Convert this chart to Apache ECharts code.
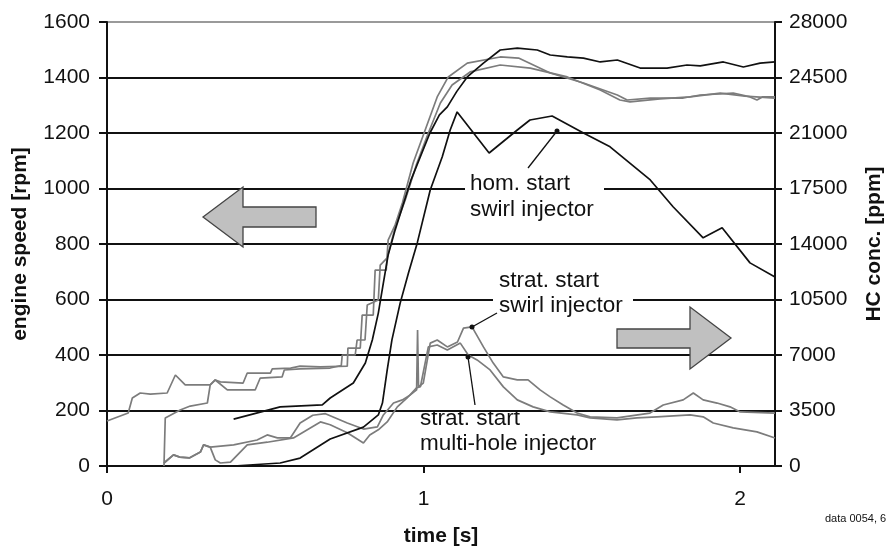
<!DOCTYPE html>
<html>
<head>
<meta charset="utf-8">
<script src="https://cdn.jsdelivr.net/npm/echarts@6/dist/echarts.min.js"></script>
<style>
html,body{margin:0;padding:0;background:#fff;}
#chart{width:893px;height:549px;}
</style>
</head>
<body>
<div id="chart"></div>
<script>
// ---- data (time [s], value) ----
const timeTicks = [0, 1, 2];
const speedTicks = [0, 200, 400, 600, 800, 1000, 1200, 1400, 1600];
const hcTicks = [0, 3500, 7000, 10500, 14000, 17500, 21000, 24500, 28000];

// engine speed [rpm], left axis
const speedHom = [[0.4,169],[0.547,213],[0.68,220],[0.705,245],[0.778,299],[0.816,371],[0.838,454],[0.857,551],[0.873,660],[0.888,760],[0.91,850],[0.96,1030],[1.02,1200],[1.05,1265],[1.075,1294],[1.105,1350],[1.138,1402],[1.189,1452],[1.242,1499],[1.296,1506],[1.359,1499],[1.4,1481],[1.454,1474],[1.505,1470],[1.558,1456],[1.612,1463],[1.684,1434],[1.769,1434],[1.832,1445],[1.874,1442],[1.947,1456],[2.01,1438],[2.063,1452],[2.11,1456]];
const speedStratA = [[0,162],[0.067,191],[0.08,245],[0.105,263],[0.137,259],[0.19,263],[0.216,328],[0.247,292],[0.326,292],[0.342,310],[0.358,303],[0.43,299],[0.443,335],[0.516,335],[0.522,350],[0.58,353],[0.61,360],[0.674,357],[0.759,360],[0.761,425],[0.8,425],[0.806,544],[0.841,544],[0.847,706],[0.882,706],[0.888,814],[0.91,868],[0.933,948],[0.967,1092],[1.005,1211],[1.043,1330],[1.078,1402],[1.138,1452],[1.242,1474],[1.3,1470],[1.4,1416],[1.505,1380],[1.612,1337],[1.643,1319],[1.716,1326],[1.82,1326],[1.874,1337],[1.978,1344],[2.031,1330],[2.053,1319],[2.07,1330],[2.11,1330]];
const speedStratB = [[0.18,0],[0.184,173],[0.231,202],[0.263,216],[0.317,227],[0.326,292],[0.342,310],[0.38,274],[0.468,274],[0.484,317],[0.553,321],[0.56,346],[0.61,350],[0.705,353],[0.74,362],[0.743,400],[0.784,400],[0.79,454],[0.815,454],[0.822,580],[0.857,598],[0.863,724],[0.885,750],[0.91,860],[0.942,959],[0.977,1085],[1.015,1200],[1.053,1308],[1.09,1373],[1.147,1420],[1.242,1445],[1.337,1434],[1.454,1402],[1.558,1355],[1.62,1319],[1.652,1312],[1.747,1323],[1.842,1330],[1.937,1344],[2.015,1333],[2.11,1326]];

// HC concentration [ppm], right axis
const hcHom = [[0.4,0],[0.547,190],[0.61,500],[0.705,1700],[0.81,2450],[0.857,3220],[0.87,3970],[0.885,6050],[0.9,7950],[0.926,10270],[0.952,12160],[0.98,14070],[1.021,17410],[1.059,19500],[1.084,21190],[1.106,22330],[1.207,19740],[1.296,21190],[1.336,21820],[1.406,22070],[1.505,21000],[1.589,20130],[1.716,18040],[1.788,16350],[1.883,14390],[1.943,15020],[2.031,12810],[2.11,11920]];
const hcStratSwirl = [[0.18,190],[0.21,700],[0.23,560],[0.26,510],[0.295,880],[0.305,1330],[0.326,1190],[0.4,1330],[0.474,1640],[0.506,1960],[0.538,1770],[0.579,1770],[0.61,2710],[0.65,3200],[0.69,3300],[0.759,2710],[0.81,2330],[0.854,2470],[0.873,3220],[0.905,3970],[0.933,4170],[0.958,4480],[0.978,4800],[0.981,8580],[0.984,5000],[0.999,5230],[1.021,7750],[1.043,7950],[1.075,7510],[1.107,7820],[1.126,8700],[1.153,8770],[1.189,7510],[1.22,6490],[1.252,5620],[1.296,5430],[1.33,5430],[1.368,4800],[1.4,4360],[1.441,3850],[1.485,3340],[1.526,3100],[1.611,3030],[1.715,3340],[1.757,3850],[1.82,4170],[1.852,4600],[1.883,4170],[1.927,3970],[1.968,3730],[2.0,3410],[2.11,3340]];
const hcStratMulti = [[0.18,190],[0.21,700],[0.23,560],[0.26,510],[0.295,880],[0.305,1330],[0.326,1190],[0.342,385],[0.358,190],[0.39,245],[0.443,1330],[0.506,1500],[0.589,1770],[0.674,2780],[0.705,2600],[0.759,2100],[0.81,1450],[0.83,1960],[0.857,2280],[0.885,2780],[0.917,3730],[0.948,4290],[0.977,4920],[0.99,5000],[1.015,7510],[1.043,7630],[1.075,7320],[1.116,7750],[1.141,7000],[1.169,6690],[1.21,6060],[1.252,4990],[1.296,4170],[1.346,3730],[1.4,3410],[1.485,3220],[1.526,3030],[1.611,2910],[1.674,3030],[1.737,3100],[1.842,3220],[1.883,3100],[1.915,2710],[1.978,2400],[2.053,2150],[2.11,1770]];

const FONT = "'Liberation Sans', Arial, sans-serif";
const GRAY = '#7c7c7c';
const chart = echarts.init(document.getElementById('chart'), null, {renderer: 'canvas'});

function lineSeries(name, data, color, axis) {
  return {
    name, type: 'line', data, yAxisIndex: axis,
    showSymbol: false, symbol: 'none', animation: false,
    lineStyle: {color, width: 1.7}, z: color === GRAY ? 3 : 4
  };
}

const gridColors = speedTicks.map((v, i) => i === speedTicks.length - 1 ? '#9a9a9a' : '#111');

const textStyle = (t, x, y, size) => ({
  type: 'text', x, y, z: 120,
  style: {text: t, font: `${size}px ${FONT}`, fill: '#111', textVerticalAlign: 'middle', textAlign: 'left'}
});

chart.setOption({
  animation: false,
  backgroundColor: '#fff',
  grid: {left: 107, right: 118, top: 22, bottom: 83, containLabel: false, outerBoundsMode: 'none'},
  xAxis: {
    type: 'value', min: 0, max: 2.11, interval: 1,
    name: 'time [s]', nameLocation: 'middle', nameGap: 60,
    nameTextStyle: {fontFamily: FONT, fontSize: 21, fontWeight: 'bold', color: '#111'},
    axisLine: {show: true, lineStyle: {color: '#111', width: 2}},
    axisTick: {show: true, inside: false, length: 7, customValues: timeTicks, lineStyle: {color: '#111', width: 2}},
    axisLabel: {show: true, margin: 23, customValues: timeTicks, fontFamily: FONT, fontSize: 21, color: '#111', formatter: v => String(v)},
    splitLine: {show: false}
  },
  yAxis: [{
    type: 'value', min: 0, max: 1600, interval: 200, position: 'left',
    name: 'engine speed [rpm]', nameLocation: 'middle', nameGap: 76, nameRotate: 90,
    nameTextStyle: {fontFamily: FONT, fontSize: 21, fontWeight: 'bold', color: '#111'},
    axisLine: {show: true, lineStyle: {color: '#111', width: 2}},
    axisTick: {show: true, inside: false, length: 8, lineStyle: {color: '#111', width: 2}},
    axisLabel: {margin: 17, fontFamily: FONT, fontSize: 21, color: '#111', formatter: v => String(v)},
    splitLine: {show: true, lineStyle: {color: gridColors, width: 2}}
  }, {
    type: 'value', min: 0, max: 28000, interval: 3500, position: 'right',
    name: 'HC conc. [ppm]', nameLocation: 'middle', nameGap: 89, nameRotate: 90,
    nameTextStyle: {fontFamily: FONT, fontSize: 21, fontWeight: 'bold', color: '#111'},
    axisLine: {show: true, lineStyle: {color: '#111', width: 2}},
    axisTick: {show: true, inside: false, length: 7, lineStyle: {color: '#111', width: 2}},
    axisLabel: {margin: 14, fontFamily: FONT, fontSize: 21, color: '#111', formatter: v => String(v)},
    splitLine: {show: false}
  }],
  series: [
    lineSeries('speed strat A', speedStratA, GRAY, 0),
    lineSeries('speed strat B', speedStratB, GRAY, 0),
    lineSeries('HC strat swirl', hcStratSwirl, GRAY, 1),
    lineSeries('HC strat multi', hcStratMulti, GRAY, 1),
    lineSeries('speed hom', speedHom, '#111', 0),
    lineSeries('HC hom', hcHom, '#111', 1)
  ],
  graphic: {elements: [
    // white boxes behind annotation texts
    {type: 'rect', z: 110, shape: {x: 465, y: 170, width: 139, height: 52}, style: {fill: '#fff'}},
    {type: 'rect', z: 110, shape: {x: 493, y: 268, width: 140, height: 50}, style: {fill: '#fff'}},
    textStyle('hom. start', 470, 184, 22.5),
    textStyle('swirl injector', 470, 210, 22.5),
    textStyle('strat. start', 499, 281, 22.5),
    textStyle('swirl injector', 499, 306, 22.5),
    textStyle('strat. start', 420, 419, 22.5),
    textStyle('multi-hole injector', 420, 444, 22.5),
    // pointer lines
    {type: 'line', z: 115, shape: {x1: 528, y1: 168, x2: 557, y2: 131}, style: {stroke: '#111', lineWidth: 1.3}},
    {type: 'circle', z: 115, shape: {cx: 557, cy: 131, r: 2.5}, style: {fill: '#111'}},
    {type: 'line', z: 115, shape: {x1: 497, y1: 313, x2: 472, y2: 327}, style: {stroke: '#111', lineWidth: 1.3}},
    {type: 'circle', z: 115, shape: {cx: 472, cy: 327, r: 2.5}, style: {fill: '#111'}},
    {type: 'line', z: 115, shape: {x1: 475, y1: 405, x2: 468, y2: 357}, style: {stroke: '#111', lineWidth: 1.3}},
    {type: 'circle', z: 115, shape: {cx: 468, cy: 357, r: 2.5}, style: {fill: '#111'}},
    // block arrows
    {type: 'polygon', z: 115, shape: {points: [[203,217],[243,187],[243,207],[316,207],[316,227],[243,227],[243,247]]},
     style: {fill: '#c0c0c0', stroke: '#444', lineWidth: 1.3}},
    {type: 'polygon', z: 115, shape: {points: [[617,329],[690,329],[690,307],[731,338],[690,369],[690,348],[617,348]]},
     style: {fill: '#c0c0c0', stroke: '#444', lineWidth: 1.3}},
    // source note
    {type: 'text', z: 120, x: 825, y: 519, style: {text: 'data 0054, 6', font: `11px ${FONT}`, fill: '#111', textVerticalAlign: 'middle'}}
  ]}
});
</script>
</body>
</html>
